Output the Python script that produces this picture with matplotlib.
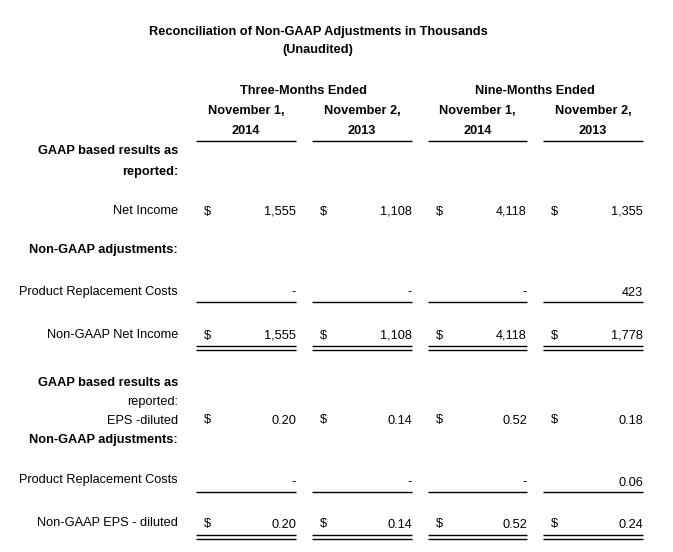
import matplotlib
matplotlib.use("Agg")
import matplotlib.pyplot as plt

plt.rcParams['font.family'] = ['Liberation Sans', 'DejaVu Sans']

title = "Reconciliation of Non-GAAP Adjustments in Thousands"
subtitle = "(Unaudited)"
groups = ["Three-Months Ended", "Nine-Months Ended"]
col_dates = ["November 1,\n2014", "November 2,\n2013", "November 1,\n2014", "November 2,\n2013"]

net_income = ["1,555", "1,108", "4,118", "1,355"]
prc_income = ["-", "-", "-", "423"]
nongaap_net_income = ["1,555", "1,108", "4,118", "1,778"]
eps_diluted = ["0.20", "0.14", "0.52", "0.18"]
prc_eps = ["-", "-", "-", "0.06"]
nongaap_eps = ["0.20", "0.14", "0.52", "0.24"]

W, H = 673, 552
fig = plt.figure(figsize=(W / 100, H / 100), dpi=100)
ax = fig.add_axes([0, 0, 1, 1])
ax.set_xlim(0, W)
ax.set_ylim(H, 0)
ax.axis('off')

FS = 9.2
DY = 1.5
col_left = [196, 312, 428, 543]
col_right = [296, 412, 527, 643]
label_x = 178

def txt(x, y, s, ha='left', bold=False, **kw):
    ax.text(x, y + DY, s, ha=ha, va='center', fontsize=FS,
            fontweight='bold' if bold else 'normal', color='#000000', **kw)

def hline(y, lw=1.0):
    for l, r in zip(col_left, col_right):
        ax.plot([l, r], [y, y], color='black', lw=lw, solid_capstyle='butt')

# Title
txt(318, 30, title, ha='center', bold=True)
txt(318, 49, subtitle, ha='center', bold=True)

# Group headers
txt(303, 90, groups[0], ha='center', bold=True)
txt(535, 90, groups[1], ha='center', bold=True)
for l, r, d in zip(col_left, col_right, col_dates):
    a, b = d.split("\n")
    txt((l + r) / 2, 110, a, ha='center', bold=True)
    txt((l + r) / 2, 130, b, ha='center', bold=True)
hline(141)

def value_row(y, vals, dollar):
    for i, v in enumerate(vals):
        if dollar:
            txt(col_left[i] + 8, y, "$")
        txt(col_right[i], y, v, ha='right')

# Section 1
txt(label_x, 150, "GAAP based results as", ha='right', bold=True)
txt(label_x, 171, "reported:", ha='right', bold=True)
txt(label_x, 210, "Net Income", ha='right')
value_row(210, net_income, True)
txt(label_x, 248, "Non-GAAP adjustments:", ha='right', bold=True)
txt(label_x, 290, "Product Replacement Costs", ha='right')
value_row(291, prc_income, False)
hline(302)
txt(label_x, 333, "Non-GAAP Net Income", ha='right')
value_row(334, nongaap_net_income, True)
hline(346)
hline(349.5)

# Section 2
txt(label_x, 381, "GAAP based results as", ha='right', bold=True)
txt(label_x, 400, "reported:", ha='right')
txt(label_x, 419, "EPS -diluted", ha='right')
value_row(419, eps_diluted, True)
txt(label_x, 438, "Non-GAAP adjustments:", ha='right', bold=True)
txt(label_x, 479, "Product Replacement Costs", ha='right')
value_row(481, prc_eps, False)
hline(492)
txt(label_x, 522, "Non-GAAP EPS - diluted", ha='right')
value_row(523, nongaap_eps, True)
hline(535)
hline(538.5)

fig.savefig("out.png", dpi=100)
